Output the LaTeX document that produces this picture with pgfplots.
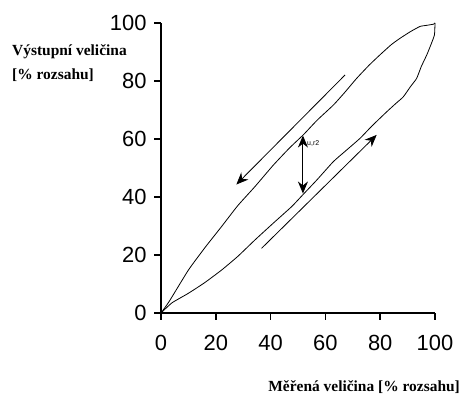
\documentclass[border=0pt]{standalone}
\usepackage{pgfplots}
\pgfplotsset{compat=1.18}
\usepackage{fontspec}
\setmainfont{Liberation Serif}
\newfontfamily\tickfont{Liberation Sans}
\usetikzlibrary{arrows.meta}
\begin{document}
\begin{tikzpicture}
\useasboundingbox (-161bp,-85bp) rectangle (301bp,313bp);
\begin{axis}[
  scale only axis,
  width=274bp, height=290bp,
  xmin=0, xmax=100, ymin=0, ymax=100,
  axis lines=left,
  axis line style={line width=1.4bp, -},
  xtick={0,20,...,100}, ytick={0,20,...,100},
  major tick length=0pt,
  /pgf/number format/assume math mode=true,
  ticklabel style={font=\tickfont\fontsize{22}{24}\selectfont},
  xticklabel style={yshift=-19bp},
  yticklabel style={xshift=-11bp},
  clip=false,
]
% outward tick marks
\pgfplotsinvokeforeach{0,20,40,60,80,100}{
  \draw[line width=1.5bp, black] (axis cs:#1,0) -- ++(0,-7bp);
  \draw[line width=1.5bp, black] (axis cs:0,#1) -- ++(-7bp,0);
}
\addplot[black, line width=0.8bp, smooth, tension=0.3] coordinates {
(0,0) (3,4) (10,14.8) (16,22.5) (22.1,29.8) (28,37) (34.3,43.6) (41,51) (47,57) (52,61.5) (57,66.5) (62.9,71.7) (67,76) (71.4,80.9) (76,85.5) (79.9,89) (84,92.5) (87.2,94.7) (91,97) (94.5,98.8) (97,99.2) (99.5,99.6) (100,100)
};
\addplot[black, line width=0.8bp, smooth, tension=0.3] coordinates {
(0,0) (4,3.5) (10,6.8) (16,10.5) (22.1,14.8) (28,19.5) (34.3,25.2) (41,31) (47.7,36.7) (52,41) (57,46) (62.9,52.2) (67.5,56) (72.6,60.2) (77,64.5) (82.4,69.4) (86,72.5) (88.4,74.5) (91,78) (93.3,80.9) (95,85) (97,89) (98.5,92.5) (99.8,95.9) (100,100)
};
% direction arrows
\addplot[black, line width=0.8bp, -{Stealth[length=12bp,width=10bp]}] coordinates {(67.2,82.1) (27.5,44.3)};
\addplot[black, line width=0.8bp, -{Stealth[length=12bp,width=10bp]}] coordinates {(36.7,22.3) (78.7,61.4)};
% hysteresis arrow
\addplot[black, line width=0.9bp, {Stealth[length=12bp,width=10bp]}-{Stealth[length=12bp,width=10bp]}] coordinates {(51.8,61.2) (51.8,41.2)};
\node[anchor=north west, inner sep=0pt, font=\tickfont\fontsize{7}{8}\selectfont] at (axis cs:53.3,59.6) {u,r2};
\end{axis}
\node[anchor=base west, inner sep=0pt, font=\bfseries\fontsize{15.5}{17}\selectfont] at (-149bp,257bp) {Výstupní veličina};
\node[anchor=base west, inner sep=0pt, font=\bfseries\fontsize{15.5}{17}\selectfont] at (-149bp,233bp) {[\% rozsahu]};
\node[anchor=base east, inner sep=0pt, font=\bfseries\fontsize{15.5}{17}\selectfont] at (299bp,-78bp) {Měřená veličina [\% rozsahu]};
\end{tikzpicture}
\end{document}
